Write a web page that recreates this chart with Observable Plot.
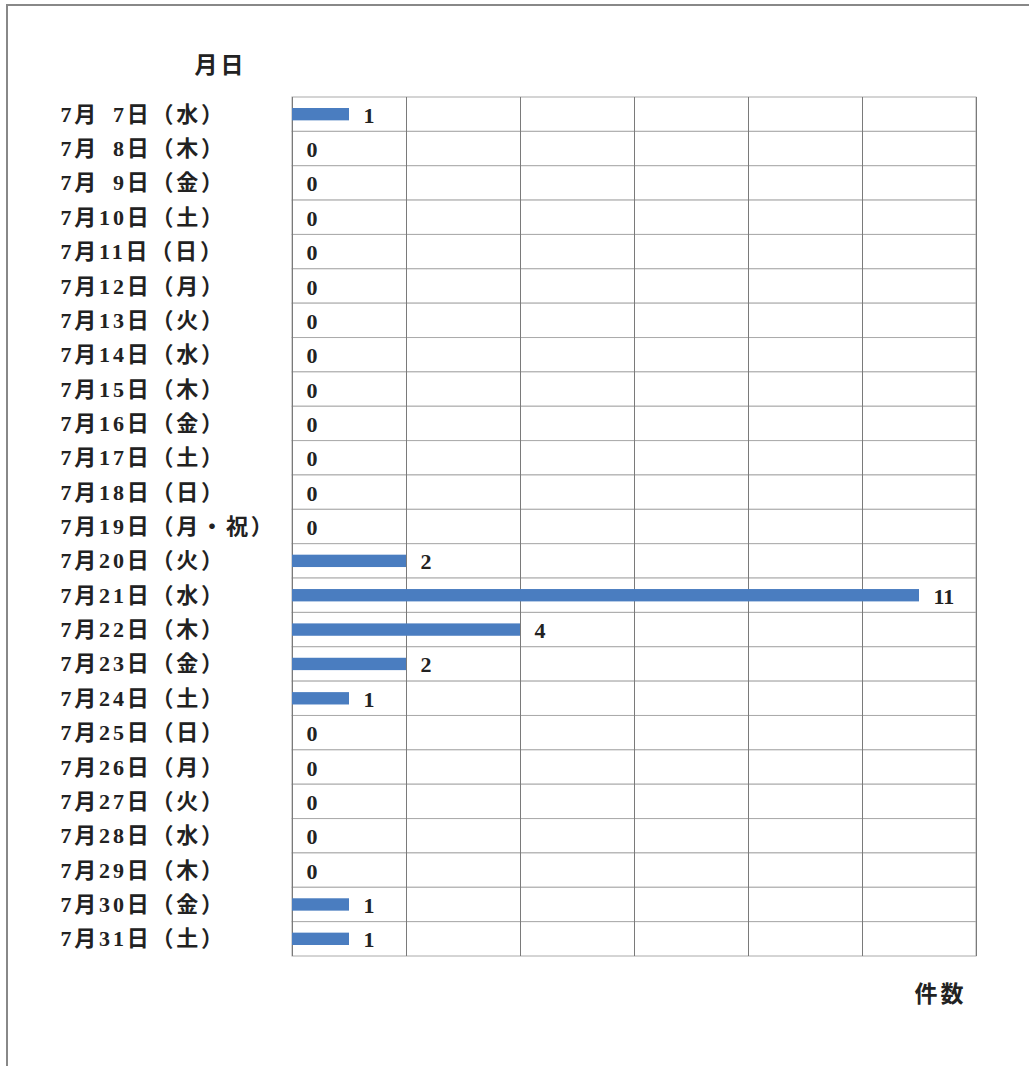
<!DOCTYPE html>
<html>
<head>
<meta charset="utf-8">
<script src="https://cdn.jsdelivr.net/npm/d3@7"></script>
<script src="https://cdn.jsdelivr.net/npm/@observablehq/plot@0.6"></script>
<style>
  html, body { margin: 0; padding: 0; background: #fff; overflow: hidden; }
  #wrap { position: relative; width: 1029px; height: 1066px; }
  #frame { position: absolute; left: 6px; top: 4px; width: 1100px; height: 1100px; border: 2px solid #888; box-sizing: border-box; }
  #chart { position: absolute; left: 0; top: 0; }
  .datelab text { letter-spacing: 2.8px; }
  .titlelab text { letter-spacing: 3px; }
</style>
</head>
<body>
<div id="wrap"><div id="frame"></div><div id="chart"></div></div>
<script>
const dateLabels = [
  "7月\u20027日（水）", "7月\u20028日（木）", "7月\u20029日（金）", "7月10日（土）",
  "7月11日（日）", "7月12日（月）", "7月13日（火）", "7月14日（水）",
  "7月15日（木）", "7月16日（金）", "7月17日（土）", "7月18日（日）",
  "7月19日（月・祝）", "7月20日（火）", "7月21日（水）", "7月22日（木）",
  "7月23日（金）", "7月24日（土）", "7月25日（日）", "7月26日（月）",
  "7月27日（火）", "7月28日（水）", "7月29日（木）", "7月30日（金）",
  "7月31日（土）"
];
const counts = [1, 0, 0, 0, 0, 0, 0, 0, 0, 0, 0, 0, 0, 2, 11, 4, 2, 1, 0, 0, 0, 0, 0, 1, 1];
const xTicks = [0, 2, 4, 6, 8, 10, 12];
const yTitle = "月日";
const xTitle = "件数";

const rows = dateLabels.map((label, i) => ({label, count: counts[i]}));
const font = "'Liberation Serif', 'Noto Sans CJK JP', serif";

const chart = Plot.plot({
  width: 1029,
  height: 1066,
  marginLeft: 292,
  marginRight: 53,
  marginTop: 97,
  marginBottom: 110,
  x: {domain: [0, 12], axis: null},
  y: {domain: dateLabels, padding: 0, round: false, axis: null},
  style: {fontFamily: font, background: "transparent", color: "#222"},
  marks: [
    Plot.barX(rows, {y: "label", x1: 0, x2: 12, fill: "white", stroke: "#aaa", strokeWidth: 1}),
    Plot.ruleX(xTicks, {stroke: "#7a7a7a", strokeWidth: 1}),
    Plot.barX(rows, {y: "label", x: "count", fill: "#4a7dc0", insetTop: 11, insetBottom: 11}),
    Plot.text(rows, {y: "label", x: "count", text: d => String(d.count), textAnchor: "start", dx: 14, dy: 1, fontSize: 22, fontWeight: "bold", fill: "#222"}),
    Plot.text(rows, {y: "label", frameAnchor: "left", textAnchor: "start", dx: -232, text: "label", fontSize: 22, fontWeight: "bold", fill: "#222", className: "datelab"}),
    Plot.text([yTitle], {frameAnchor: "top-left", textAnchor: "middle", lineAnchor: "middle", dx: -72, dy: -32, text: d => d, fontSize: 23, fontWeight: "bold", fill: "#222", className: "titlelab"}),
    Plot.text([xTitle], {frameAnchor: "bottom-right", textAnchor: "middle", lineAnchor: "middle", dx: -36, dy: 38, text: d => d, fontSize: 23, fontWeight: "bold", fill: "#222", className: "titlelab"})
  ]
});
document.getElementById("chart").appendChild(chart);
</script>
</body>
</html>
